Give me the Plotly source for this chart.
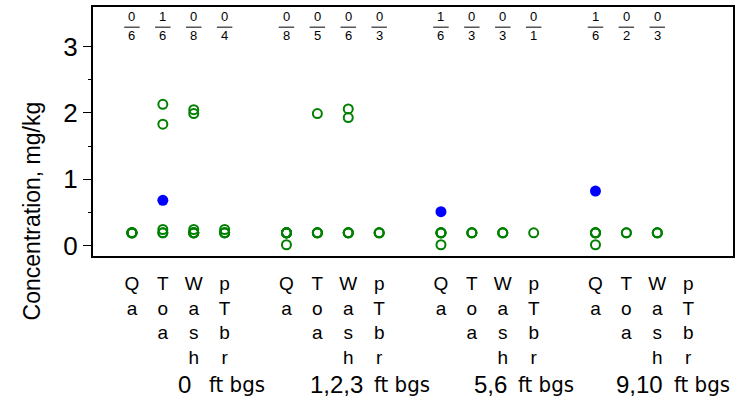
import plotly.graph_objects as go

# ---------------- data ----------------
depth_groups = ["0", "1,2,3", "5,6", "9,10"]
units = ["Qa", "Toa", "Wash", "pTbr"]

# non-detect values (open green circles) per depth group, per unit
nondetects = {
    "0":     {"Qa": [0.19]*6,
              "Toa": [2.13, 1.83, 0.24, 0.19, 0.19],
              "Wash": [2.05, 1.99, 0.24, 0.19, 0.19, 0.19, 0.19, 0.19],
              "pTbr": [0.24, 0.19, 0.19, 0.19]},
    "1,2,3": {"Qa": [0.19]*7 + [0.01],
              "Toa": [1.99, 0.19, 0.19, 0.19, 0.19],
              "Wash": [2.06, 1.93, 0.19, 0.19, 0.19, 0.19],
              "pTbr": [0.19]*3},
    "5,6":   {"Qa": [0.19]*4 + [0.01],
              "Toa": [0.19]*3,
              "Wash": [0.19]*3,
              "pTbr": [0.19]},
    "9,10":  {"Qa": [0.19]*4 + [0.01],
              "Toa": [0.19]*2,
              "Wash": [0.19]*3,
              "pTbr": []},
}
# detected values (filled blue circles)
detects = {
    "0":     {"Qa": [], "Toa": [0.68], "Wash": [], "pTbr": []},
    "1,2,3": {"Qa": [], "Toa": [], "Wash": [], "pTbr": []},
    "5,6":   {"Qa": [0.51], "Toa": [], "Wash": [], "pTbr": []},
    "9,10":  {"Qa": [0.82], "Toa": [], "Wash": [], "pTbr": []},
}

# ---------------- positions ----------------
def pos(g, u):
    return g * (len(units) + 1) + u

nd_x, nd_y, d_x, d_y = [], [], [], []
tickvals, ticktext = [], []
fractions = []  # (x, detects, total)
for gi, g in enumerate(depth_groups):
    for ui, u in enumerate(units):
        x = pos(gi, ui)
        tickvals.append(x)
        ticktext.append("<br>".join(list(u)))
        nds = nondetects[g][u]
        ds = detects[g][u]
        nd_x += [x]*len(nds); nd_y += nds
        d_x += [x]*len(ds); d_y += ds
        n = len(nds) + len(ds)
        if n > 0:
            fractions.append((x, len(ds), n))

fig = go.Figure()
fig.add_trace(go.Scatter(x=nd_x, y=nd_y, mode="markers",
                         marker=dict(symbol="circle-open", size=9, color="#008000",
                                     line=dict(width=2, color="#008000")),
                         showlegend=False, hoverinfo="y"))
fig.add_trace(go.Scatter(x=d_x, y=d_y, mode="markers",
                         marker=dict(symbol="circle", size=11, color="#0000FF"),
                         showlegend=False, hoverinfo="y"))

FONT = "Liberation Sans, Arial, sans-serif"
NARROW = "DejaVu Sans Condensed, Liberation Sans Narrow, sans-serif"

annotations = []
shapes = []
for x, nd, n in fractions:
    annotations.append(dict(x=x, y=0.963, xref="x", yref="paper", text=str(nd),
                            showarrow=False, font=dict(size=13, family=FONT, color="black"),
                            xanchor="center", yanchor="middle"))
    annotations.append(dict(x=x, y=0.887, xref="x", yref="paper", text=str(n),
                            showarrow=False, font=dict(size=13, family=FONT, color="black"),
                            xanchor="center", yanchor="middle"))
    shapes.append(dict(type="line", xref="x", yref="paper", x0=x-0.25, x1=x+0.25,
                       y0=0.919, y1=0.919, line=dict(color="black", width=1)))

ft_offsets = [0.92, 1.27, 0.92, 0.98]
num_gap = [-14, -7, -7, -7]
for gi, g in enumerate(depth_groups):
    ft_x = pos(gi, 1.5) + ft_offsets[gi]
    annotations.append(dict(x=ft_x, xshift=num_gap[gi], y=-0.517, xref="x", yref="paper",
                            text=g, showarrow=False,
                            font=dict(size=24, family=FONT, color="black"),
                            xanchor="right", yanchor="middle"))
    annotations.append(dict(x=ft_x, y=-0.517, xref="x", yref="paper",
                            text="ft bgs", showarrow=False,
                            font=dict(size=22, family=NARROW, color="black"),
                            xanchor="left", yanchor="middle"))

annotations.append(dict(x=-0.095, y=0.18, xref="paper", yref="paper",
                        text="Concentration, mg/kg", textangle=-90, showarrow=False,
                        font=dict(size=23, family=FONT, color="black"),
                        xanchor="center", yanchor="middle"))

fig.update_layout(
    width=736, height=407,
    margin=dict(l=93, r=3, t=7, b=151),
    paper_bgcolor="white", plot_bgcolor="white",
    font=dict(family=FONT, color="black"),
    annotations=annotations, shapes=shapes,
    xaxis=dict(range=[-1.26, 19.45], tickvals=tickvals, ticktext=ticktext,
               ticks="outside", ticklen=9, tickcolor="rgba(0,0,0,0)",
               tickfont=dict(size=19, family=FONT, color="black"),
               showline=True, mirror=True, linecolor="black", linewidth=2,
               showgrid=False, zeroline=False, tickangle=0, automargin=False),
    yaxis=dict(range=[-0.16, 3.6], tickvals=[0, 1, 2, 3],
               ticks="outside", ticklen=8, tickwidth=1, tickcolor="black",
               minor=dict(tickvals=[0.5, 1.5, 2.5], ticks="outside", ticklen=3,
                          tickcolor="black"),
               tickfont=dict(size=26, family=FONT, color="black"),
               showline=True, mirror=True, linecolor="black", linewidth=2,
               showgrid=False, zeroline=False, automargin=False),
)

fig.write_html("out.html", config={"displayModeBar": False},
               post_script="document.body.style.margin='0';document.body.style.padding='0';"
                           "document.body.style.overflow='hidden';")
